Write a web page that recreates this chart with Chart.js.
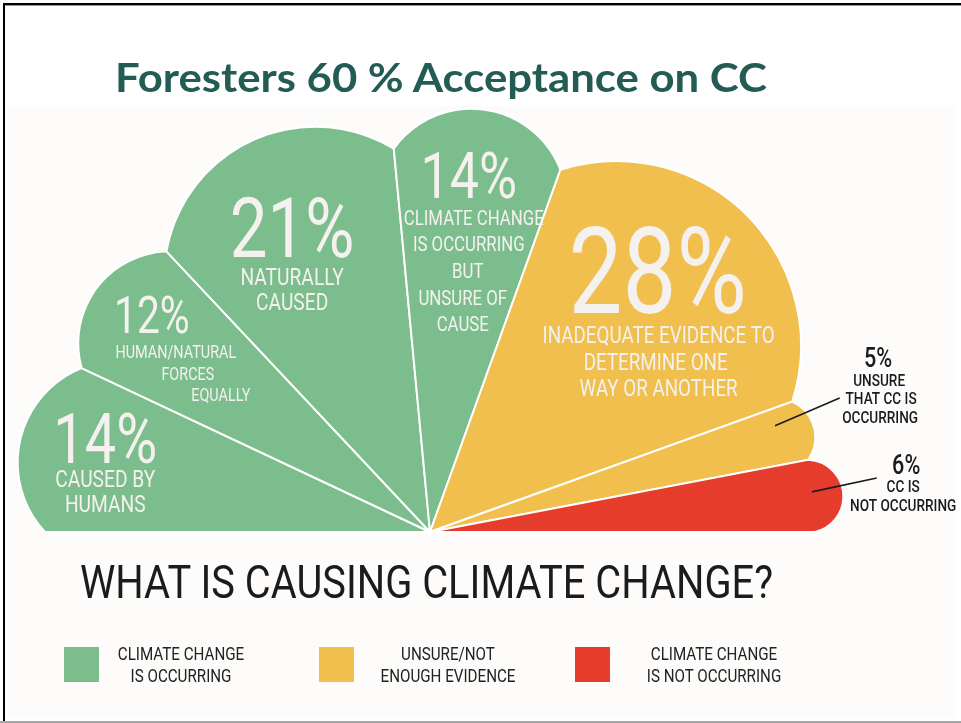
<!DOCTYPE html>
<html>
<head>
<meta charset="utf-8">
<script src="https://cdn.jsdelivr.net/npm/chart.js@4/dist/chart.umd.min.js"></script>
<style>
    html, body { margin: 0; padding: 0; background: #ffffff; }
    #page { position: relative; width: 961px; height: 723px; overflow: hidden; background: #ffffff; }
    .frame-top { position: absolute; left: 3px; top: 3px; width: 958px; height: 2px; background: #000; }
    .frame-top2 { position: absolute; left: 3px; top: 5px; width: 958px; height: 1px; background: #9a9a9a; }
    .frame-left { position: absolute; left: 3px; top: 3px; width: 2px; height: 719px; background: #000; }
    .frame-bottom { position: absolute; left: 0; top: 721px; width: 961px; height: 2px; background: #a6a6a6; }
    .panel { position: absolute; left: 5px; top: 106px; width: 950px; height: 612px; background: #fdfcfa; }
    #chart { position: absolute; left: 0; top: 0; }
    .fit { position: absolute; white-space: nowrap; transform-origin: 0 0; line-height: 1; }
    #title { font-family: Lato, 'Open Sans', sans-serif; font-weight: 700; font-size: 40px; color: #235b55; }
    #question { font-family: Roboto, sans-serif; font-weight: 400; font-size: 46px; color: #1b1b1b; }
    .swatch { position: absolute; top: 647px; width: 35px; height: 35px; }
    .legend-text { position: absolute; top: 643px; width: 200px; text-align: center;
        font-family: Roboto, sans-serif; font-size: 18.5px; line-height: 22px; color: #222;
        transform: scaleX(0.82); transform-origin: 50% 0; }
</style>
</head>
<body>
<div id="page">
    <div class="panel"></div>
    <div class="frame-top"></div>
    <div class="frame-top2"></div>
    <div class="frame-left"></div>
    <div class="frame-bottom"></div>
    <canvas id="chart" width="961" height="723"></canvas>
    <div id="title" class="fit" data-left="115" data-top="57" data-w="652">Foresters 60 % Acceptance on CC</div>
    <div id="question" class="fit" data-left="80" data-top="559" data-w="693">WHAT IS CAUSING CLIMATE CHANGE?</div>
    <div id="legend"></div>
</div>
<script>
// slice labels (drawn as lines of text inside / next to each petal)
const categories = [
    ['CAUSED BY', 'HUMANS'],
    ['HUMAN/NATURAL', 'FORCES', 'EQUALLY'],
    ['NATURALLY', 'CAUSED'],
    ['CLIMATE CHANGE', 'IS OCCURRING', 'BUT', 'UNSURE OF', 'CAUSE'],
    ['INADEQUATE EVIDENCE TO', 'DETERMINE ONE', 'WAY OR ANOTHER'],
    ['UNSURE', 'THAT CC IS', 'OCCURRING'],
    ['CC IS', 'NOT OCCURRING']
];
const percents = [14, 12, 21, 14, 28, 5, 6];
const groupOf = [0, 0, 0, 0, 1, 1, 2];

const groupNames = [
    ['CLIMATE CHANGE', 'IS OCCURRING'],
    ['UNSURE/NOT', 'ENOUGH EVIDENCE'],
    ['CLIMATE CHANGE', 'IS NOT OCCURRING']
];
const groupColors = ['#7bbd8c', '#f0bf4e', '#e53c2c'];

// petal look: how far each petal bulges past the base radius
const petalReach = [1.091, 1.073, 1.117, 1.106, 1.164, 1.034, 1.078];

// label placement: radius + angle shift from slice middle, font sizes, line offsets
const labelSpots = [
    { r: 338, turn: 3.5, big: 70, small: 24, ink: '#f4f1ee', lines: [[0, 40], [0, 65]] },
    { r: 353, turn: 2.0, big: 51, small: 18, ink: '#f4f1ee', lines: [[24, 37], [36, 59], [69, 80]] },
    { r: 335, turn: 0.0, big: 84, small: 24, ink: '#f4f1ee', lines: [[0, 50], [0, 75]] },
    { r: 359, turn: -1.0, big: 65, small: 21, ink: '#f4f1ee', lines: [[5, 42], [0, 68], [-1, 95], [-6, 122], [-6, 148]] },
    { r: 347, turn: -4.0, big: 120, small: 23.5, ink: '#f4f1ee', lines: [[1, 65], [-2, 92], [1, 118]] },
    { r: 481, turn: -6.0, big: 27, small: 17, ink: '#1b1b1b', weight: 500, lines: [[1, 23], [3, 41], [2, 60]],
        leader: [[361, -1.8], [431, -2.8]] },
    { r: 481, turn: -2.7, big: 27, small: 17, ink: '#1b1b1b', weight: 500, lines: [[-3, 22], [-3, 41]],
        leader: [[384, -0.6], [450, -1.5]] }
];

const CONDENSE = 0.8;
const CAP = 0.711; // Roboto cap height

function drawCondensed(ctx, text, x, y, size, weight, color) {
    ctx.save();
    ctx.font = `${weight} ${size}px Roboto`;
    ctx.fillStyle = color;
    ctx.textAlign = 'center';
    ctx.textBaseline = 'alphabetic';
    ctx.translate(x, y + size * CAP / 2);
    ctx.scale(CONDENSE, 1);
    ctx.fillText(text, 0, 0);
    ctx.restore();
}

/**
 * Draw each pie arc as a rounded petal instead of a plain wedge
 */
const petalPlugin = {
    id: 'petals',
    beforeDatasetsDraw(chart) {
        const ctx = chart.ctx;
        const meta = chart.getDatasetMeta(0);
        meta.data.forEach((arc, i) => {
            const { x, y, startAngle, endAngle, outerRadius } = arc;
            const rb = outerRadius;
            const rp = outerRadius * petalReach[i];
            const half = (endAngle - startAngle) / 2;
            const mid = startAngle + half;
            const h = rb * Math.sin(half);
            const s = rp - rb * Math.cos(half);
            const rho = (h * h + s * s) / (2 * s);
            const cx = x + (rp - rho) * Math.cos(mid);
            const cy = y + (rp - rho) * Math.sin(mid);
            const p0x = x + rb * Math.cos(startAngle), p0y = y + rb * Math.sin(startAngle);
            const p1x = x + rb * Math.cos(endAngle), p1y = y + rb * Math.sin(endAngle);
            const t0 = Math.atan2(p0y - cy, p0x - cx);
            const t1 = Math.atan2(p1y - cy, p1x - cx);

            ctx.save();
            ctx.beginPath();
            ctx.moveTo(x, y);
            ctx.lineTo(p0x, p0y);
            ctx.arc(cx, cy, rho, t0, t1, false);
            ctx.closePath();
            ctx.fillStyle = arc.options.backgroundColor;
            ctx.fill();
            ctx.lineWidth = 2;
            ctx.strokeStyle = '#ffffff';
            ctx.stroke();
            ctx.restore();
        });
        return false;
    },
    // datasets draw is cancelled above, so labels go in afterDraw
    afterDraw(chart) {
        const ctx = chart.ctx;
        const meta = chart.getDatasetMeta(0);
        meta.data.forEach((arc, i) => {
            const spot = labelSpots[i];
            const mid = (arc.startAngle + arc.endAngle) / 2;
            const at = (r, turn) => {
                const a = mid + turn * Math.PI / 180;
                return [arc.x + r * Math.cos(a), arc.y + r * Math.sin(a)];
            };
            const weight = spot.weight || 400;

            if (spot.leader) {
                const [a, b] = spot.leader.map(p => at(p[0], p[1]));
                ctx.save();
                ctx.beginPath();
                ctx.moveTo(a[0], a[1]);
                ctx.lineTo(b[0], b[1]);
                ctx.lineWidth = 1.6;
                ctx.strokeStyle = '#1b1b1b';
                ctx.stroke();
                ctx.restore();
            }

            const [lx, ly] = at(spot.r, spot.turn);
            drawCondensed(ctx, percents[i] + '%', lx, ly, spot.big, weight, spot.ink);
            categories[i].forEach((line, j) => {
                const off = spot.lines[j];
                drawCondensed(ctx, line, lx + off[0], ly + off[1], spot.small, weight, spot.ink);
            });
        });
    }
};

function buildLegend() {
    const legend = document.getElementById('legend');
    const swatchX = [64, 319, 575];
    const textX = [181, 448, 714];
    groupNames.forEach((lines, g) => {
        const sw = document.createElement('div');
        sw.className = 'swatch';
        sw.style.left = swatchX[g] + 'px';
        sw.style.background = groupColors[g];
        legend.appendChild(sw);

        const tx = document.createElement('div');
        tx.className = 'legend-text';
        tx.style.left = (textX[g] - 100) + 'px';
        tx.innerHTML = lines.join('<br>');
        legend.appendChild(tx);
    });
}

function fitTexts() {
    document.querySelectorAll('.fit').forEach(el => {
        el.style.left = el.dataset.left + 'px';
        el.style.top = el.dataset.top + 'px';
        const w = el.getBoundingClientRect().width;
        el.style.transform = `scaleX(${el.dataset.w / w})`;
    });
}

function drawChart() {
    const ctx = document.getElementById('chart').getContext('2d');
    new Chart(ctx, {
        type: 'pie',
        data: {
            labels: categories.map(c => c.join(' ')),
            datasets: [{
                data: percents,
                backgroundColor: groupOf.map(g => groupColors[g]),
                borderWidth: 0
            }]
        },
        options: {
            responsive: false,
            animation: false,
            events: [],
            rotation: -90,
            circumference: 180,
            radius: 385,
            layout: {
                padding: { left: 0, right: 101, top: 147, bottom: 191 }
            },
            plugins: {
                legend: { display: false },
                tooltip: { enabled: false },
                title: { display: false }
            }
        },
        plugins: [petalPlugin]
    });
}

Promise.all([
    document.fonts.load('400 20px Roboto'),
    document.fonts.load('500 20px Roboto'),
    document.fonts.load('700 40px Lato')
]).catch(() => {}).then(() => {
    buildLegend();
    fitTexts();
    drawChart();
});
</script>
</body>
</html>
